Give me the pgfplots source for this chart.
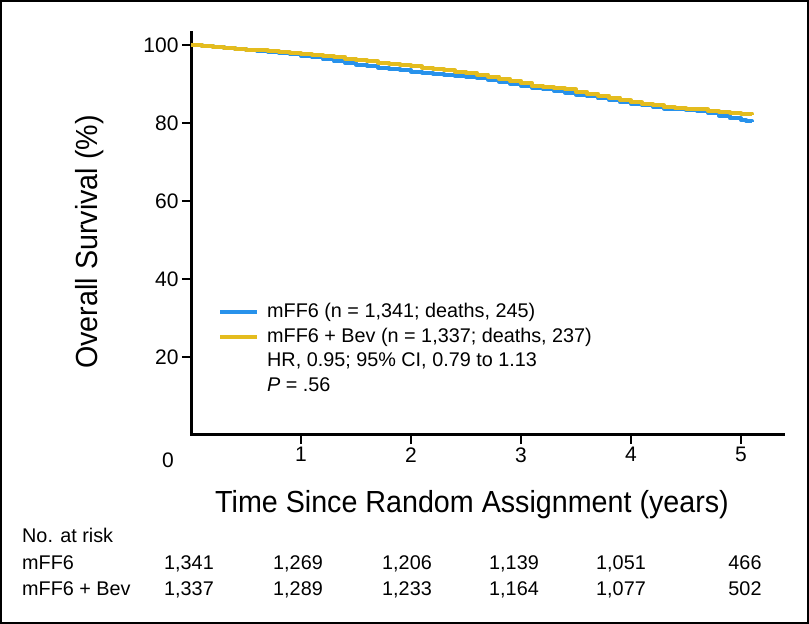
\documentclass[border=0pt]{standalone}
\usepackage{pgfplots}
\pgfplotsset{compat=1.18}
\usepackage{fontspec}
\setmainfont{Liberation Sans}
\newfontfamily\condfont[FakeStretch=0.94]{Liberation Sans}
\definecolor{kmblue}{RGB}{40,146,235}
\definecolor{kmgold}{RGB}{228,188,30}

\begin{document}
\begin{tikzpicture}[x=1pt,y=1pt]
\useasboundingbox (0,0) rectangle (809,624);
\draw[line width=2pt] (1,1) rectangle (808,623);

\begin{axis}[
    at={(191pt,189pt)}, anchor=south west,
    scale only axis,
    width=592pt, height=402pt,
    xmin=0, xmax=5.382,
    ymin=0, ymax=103.08,
    axis lines*=left,
    every outer x axis line/.append style={line width=3pt, line cap=rect},
    every outer y axis line/.append style={line width=3pt, line cap=rect},
    tick align=outside,
    major tick length=9pt,
    tick style={line width=1.6pt, black},
    xtick={1,2,3,4,5},
    ytick={20,40,60,80,100},
    tick label style={font=\fontsize{21}{25}\selectfont},
    /pgf/number format/assume math mode=true,
    clip=false,
]
% mFF6
\addplot[const plot, kmblue, line width=4pt, line join=round] coordinates {
    (0,100) (0.1,99.8) (0.2,99.6) (0.3,99.3) (0.4,99.1) (0.5,98.8)
    (0.6,98.5) (0.7,98.2) (0.8,97.9) (0.9,97.6) (1.0,97.2) (1.1,96.8)
    (1.2,96.3) (1.3,95.8) (1.4,95.4) (1.5,95.0) (1.6,94.6) (1.7,94.2)
    (1.8,93.9) (1.9,93.6) (2.0,93.2) (2.1,92.9) (2.2,92.6) (2.3,92.3)
    (2.4,92.0) (2.5,91.8) (2.6,91.5) (2.7,91.1) (2.8,90.6) (2.9,90.1)
    (3.0,89.5) (3.1,89.0) (3.2,88.6) (3.3,88.2) (3.4,87.8) (3.5,87.3)
    (3.6,86.8) (3.7,86.3) (3.8,85.9) (3.9,85.3) (4.0,84.9) (4.1,84.5)
    (4.2,84.1) (4.3,83.7) (4.4,83.5) (4.5,83.3) (4.6,83.1) (4.7,82.6)
    (4.8,81.9) (4.9,81.2) (5.0,80.8) (5.05,80.5) (5.1,80.3)
};
% mFF6 + Bev
\addplot[const plot, kmgold, line width=4pt, line join=round] coordinates {
    (0,100) (0.1,99.7) (0.2,99.4) (0.3,99.2) (0.4,99.0) (0.5,98.8)
    (0.6,98.6) (0.7,98.4) (0.8,98.1) (0.9,97.9) (1.0,97.7) (1.1,97.5)
    (1.2,97.2) (1.3,97.0) (1.4,96.5) (1.5,96.1) (1.6,95.8) (1.7,95.5)
    (1.8,95.2) (1.9,94.8) (2.0,94.5) (2.1,94.2) (2.2,93.9) (2.3,93.5)
    (2.4,93.2) (2.5,92.8) (2.6,92.4) (2.7,91.9) (2.8,91.3) (2.9,90.8)
    (3.0,90.2) (3.1,89.6) (3.2,89.2) (3.3,88.9) (3.4,88.6) (3.5,88.0)
    (3.6,87.5) (3.7,87.0) (3.8,86.5) (3.9,85.8) (4.0,85.3) (4.1,84.9)
    (4.2,84.5) (4.3,84.1) (4.4,83.9) (4.5,83.7) (4.6,83.5) (4.7,83.1)
    (4.8,82.8) (4.9,82.6) (5.0,82.4) (5.1,82.2)
};
\end{axis}

% shared origin label
\node[font=\fontsize{21}{25}\selectfont] at (168,164) {0};

% axis titles
\node[rotate=90, anchor=base, font=\condfont\fontsize{30.5}{36}\selectfont, inner sep=0pt]
    at (97,382) {Overall Survival (\%)};
\node[anchor=base, font=\condfont\fontsize{30.5}{36}\selectfont, inner sep=0pt]
    at (472,111) {Time Since Random Assignment (years)};

% legend
\begin{scope}[font=\fontsize{19.8}{24}\selectfont]
\draw[kmblue, line width=4pt] (220,312) -- (257,312);
\draw[kmgold, line width=4pt] (220,287.3) -- (257,287.3);
\node[anchor=base west, inner sep=0pt] at (267,306.5) {mFF6 (n = 1,341; deaths, 245)};
\node[anchor=base west, inner sep=0pt] at (267,281.8) {mFF6 + Bev (n = 1,337; deaths, 237)};
\node[anchor=base west, inner sep=0pt] at (267,257.1) {HR, 0.95; 95\% CI, 0.79 to 1.13};
\node[anchor=base west, inner sep=0pt] at (267,232.4) {\textit{P} = .56};
\end{scope}

% number at risk
\begin{scope}[font=\fontsize{19.8}{24}\selectfont]
\node[anchor=base west, inner sep=0pt] at (22,81.4) {No. at risk};
\node[anchor=base west, inner sep=0pt] at (22,54.7) {mFF6};
\node[anchor=base west, inner sep=0pt] at (22,28) {mFF6 + Bev};
\foreach \xx/\a/\b in {189/{1,341}/{1,337}, 298/{1,269}/{1,289}, 407/{1,206}/{1,233},
                        514/{1,139}/{1,164}, 621/{1,051}/{1,077}, 745/466/502} {
    \node[anchor=base, inner sep=0pt] at (\xx,54.7) {\a};
    \node[anchor=base, inner sep=0pt] at (\xx,28) {\b};
}
\end{scope}
\end{tikzpicture}
\end{document}
